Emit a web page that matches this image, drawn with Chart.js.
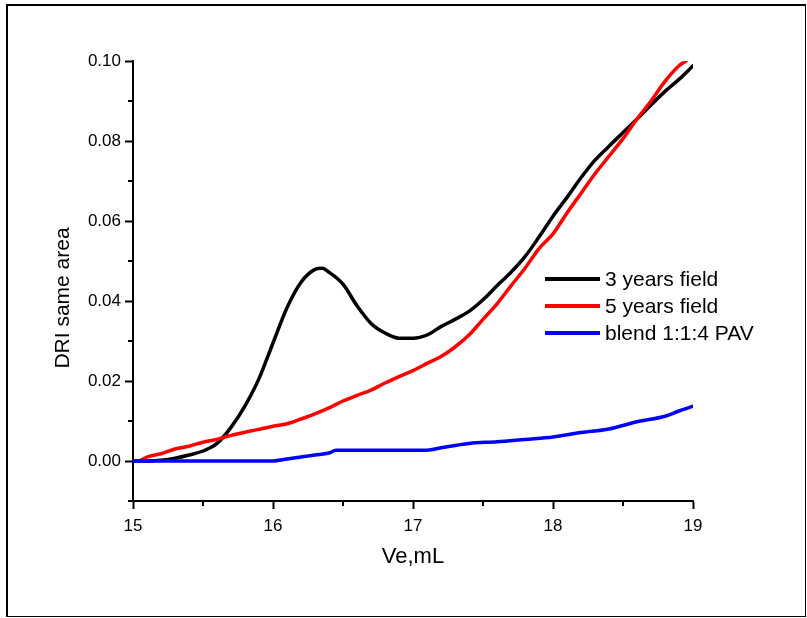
<!DOCTYPE html>
<html>
<head>
<meta charset="utf-8">
<script src="https://cdn.jsdelivr.net/npm/chart.js@4/dist/chart.umd.min.js"></script>
<style>
  html, body { margin: 0; padding: 0; background: #fff; }
  #wrap { position: relative; width: 807px; height: 618px; }
  #frame { position: absolute; left: 6px; top: 4px; width: 797px; height: 610px;
           border-left: 2px solid #000; border-top: 2px solid #000;
           border-right: 1px solid #000; border-bottom: 1px solid #000; pointer-events: none; }
  canvas { position: absolute; left: 0; top: 0; }
</style>
</head>
<body>
<div id="wrap">
  <canvas id="c" width="807" height="618"></canvas>
  <div id="frame"></div>
</div>
<script>
// ---- data ----
const seriesLabels = ['3 years field', '5 years field', 'blend 1:1:4 PAV'];
const seriesColors = ['#000000', '#ff0000', '#0000ff'];

const ve3 = [15.0,15.1,15.2,15.3,15.4,15.5,15.6,15.7,15.8,15.9,16.0,16.1,16.2,16.3,16.35,16.4,16.5,16.6,16.7,16.8,16.9,17.0,17.1,17.2,17.3,17.4,17.5,17.6,17.7,17.8,17.9,18.0,18.1,18.2,18.3,18.4,18.5,18.6,18.7,18.8,18.9,19.0];
const dri3 = [0,0,0.0002,0.0007,0.0015,0.0025,0.0044,0.0084,0.0138,0.0206,0.0295,0.0383,0.0447,0.0479,0.0482,0.0472,0.0442,0.0388,0.0344,0.032,0.0307,0.0307,0.0315,0.0336,0.0354,0.0374,0.0403,0.0438,0.0472,0.0511,0.056,0.0612,0.0659,0.0708,0.0752,0.0787,0.0821,0.0855,0.089,0.0924,0.0954,0.0988];

const ve5 = [15.05,15.1,15.2,15.3,15.4,15.5,15.6,15.7,15.8,15.9,16.0,16.1,16.2,16.3,16.4,16.5,16.6,16.7,16.8,16.9,17.0,17.1,17.2,17.3,17.4,17.5,17.6,17.7,17.8,17.9,18.0,18.1,18.2,18.3,18.4,18.5,18.6,18.7,18.8,18.9,18.95];
const dri5 = [0,0.001,0.0018,0.003,0.0037,0.0047,0.0054,0.0064,0.0072,0.0079,0.0087,0.0093,0.0105,0.0118,0.0133,0.015,0.0164,0.0177,0.0195,0.0211,0.0226,0.0244,0.0261,0.0285,0.0315,0.0354,0.0393,0.0438,0.0482,0.0531,0.0568,0.062,0.0669,0.0718,0.0762,0.0806,0.0855,0.09,0.0949,0.0988,0.1];

const veB = [15.0,16.0,16.1,16.2,16.3,16.4,16.45,17.1,17.2,17.4,17.6,17.8,18.0,18.2,18.4,18.6,18.8,18.9,19.0];
const driB = [0,0,0.0005,0.001,0.0015,0.002,0.0027,0.0027,0.0033,0.0044,0.0048,0.0054,0.006,0.0071,0.008,0.0098,0.0112,0.0125,0.0137];

const xMin = 15, xMax = 19, xStep = 0.5;
const yMin = -0.01, yMax = 0.10, yStep = 0.01;
const xTitle = 'Ve,mL';
const yTitle = 'DRI same area';

// ---- build chart ----
const FONT = '"Liberation Sans", Arial, Helvetica, sans-serif';
const pts = (xs, ys) => xs.map((x, i) => ({x: x, y: ys[i]}));

const isMajorX = v => Math.abs(v - Math.round(v)) < 1e-6;
const isMajorY = v => { const k = Math.round(v * 100); return k % 2 === 0; };

const minorTicks = {
  id: 'minorTicks',
  afterDraw(chart) {
    const ctx = chart.ctx;
    const xs = chart.scales.x, ys = chart.scales.y;
    ctx.save();
    ctx.strokeStyle = '#000';
    ctx.lineWidth = 2;
    ctx.beginPath();
    xs.ticks.forEach(t => {
      if (!isMajorX(t.value)) {
        const px = Math.round(xs.getPixelForValue(t.value));
        ctx.moveTo(px, xs.top); ctx.lineTo(px, xs.top + 5);
      }
    });
    ys.ticks.forEach(t => {
      if (!isMajorY(t.value)) {
        const py = Math.round(ys.getPixelForValue(t.value));
        ctx.moveTo(ys.right, py); ctx.lineTo(ys.right - 5, py);
      }
    });
    ctx.stroke();
    ctx.restore();
  }
};

// y-axis title drawn slightly below the axis centre, as in the reference
const yAxisTitle = {
  id: 'yAxisTitle',
  afterDraw(chart, args, opts) {
    const ctx = chart.ctx;
    ctx.save();
    ctx.translate(opts.x, opts.y);
    ctx.rotate(-Math.PI / 2);
    ctx.font = opts.fontSize + 'px ' + FONT;
    ctx.fillStyle = '#000';
    ctx.textAlign = 'center';
    ctx.textBaseline = 'middle';
    ctx.fillText(opts.text, 0, 0);
    ctx.restore();
  }
};

const customLegend = {
  id: 'customLegend',
  afterDraw(chart, args, opts) {
    const ctx = chart.ctx;
    ctx.save();
    ctx.font = opts.fontSize + 'px ' + FONT;
    ctx.textBaseline = 'middle';
    ctx.textAlign = 'left';
    chart.data.datasets.forEach((ds, i) => {
      const y = opts.y0 + i * opts.dy;
      ctx.strokeStyle = ds.borderColor;
      ctx.lineWidth = 4;
      ctx.beginPath();
      ctx.moveTo(opts.x0, y); ctx.lineTo(opts.x1, y);
      ctx.stroke();
      ctx.fillStyle = '#000';
      ctx.fillText(ds.label, opts.tx, y + 1);
    });
    ctx.restore();
  }
};

new Chart(document.getElementById('c'), {
  type: 'line',
  data: {
    datasets: [
      { label: seriesLabels[0], data: pts(ve3, dri3), borderColor: seriesColors[0], order: 3 },
      { label: seriesLabels[1], data: pts(ve5, dri5), borderColor: seriesColors[1], order: 2 },
      { label: seriesLabels[2], data: pts(veB, driB), borderColor: seriesColors[2], order: 1 }
    ]
  },
  options: {
    responsive: false,
    animation: false,
    devicePixelRatio: 1,
    elements: {
      point: { radius: 0 },
      line: { borderWidth: 3.5, cubicInterpolationMode: 'monotone', borderCapStyle: 'round', borderJoinStyle: 'round' }
    },
    layout: { padding: { left: 0, top: 61, right: 114, bottom: 0 } },
    plugins: {
      legend: { display: false },
      tooltip: { enabled: false },
      customLegend: { x0: 545, x1: 600, tx: 605, y0: 279, dy: 27, fontSize: 21 },
      yAxisTitle: { text: yTitle, x: 63, y: 298, fontSize: 21 }
    },
    scales: {
      x: {
        type: 'linear',
        min: xMin, max: xMax,
        afterFit: s => { s.height = 117; },
        border: { display: true, color: '#000', width: 2 },
        grid: { drawOnChartArea: false, drawTicks: true, tickLength: 8, tickWidth: 2,
                tickColor: c => (c.tick && isMajorX(c.tick.value)) ? '#000' : 'rgba(0,0,0,0)' },
        ticks: {
          stepSize: xStep, autoSkip: false, maxRotation: 0, padding: 7,
          color: '#000', font: { family: FONT, size: 17 },
          callback: v => isMajorX(v) ? String(Math.round(v)) : ''
        },
        title: { display: true, text: xTitle, color: '#000', font: { family: FONT, size: 22 },
                 padding: { top: 0, bottom: 48 } }
      },
      y: {
        type: 'linear',
        min: yMin, max: yMax,
        afterFit: s => { s.width = 133; },
        border: { display: true, color: '#000', width: 2 },
        grid: { drawOnChartArea: false, drawTicks: true, tickLength: 8, tickWidth: 2,
                tickColor: c => (c.tick && isMajorY(c.tick.value)) ? '#000' : 'rgba(0,0,0,0)' },
        ticks: {
          stepSize: yStep, autoSkip: false, padding: 4,
          color: '#000', font: { family: FONT, size: 17 },
          callback: v => { const k = Math.round(v * 100); return (k >= 0 && k % 2 === 0) ? (k / 100).toFixed(2) : ''; }
        },
        title: { display: false, text: yTitle }
      }
    }
  },
  plugins: [minorTicks, yAxisTitle, customLegend]
});
</script>
</body>
</html>
